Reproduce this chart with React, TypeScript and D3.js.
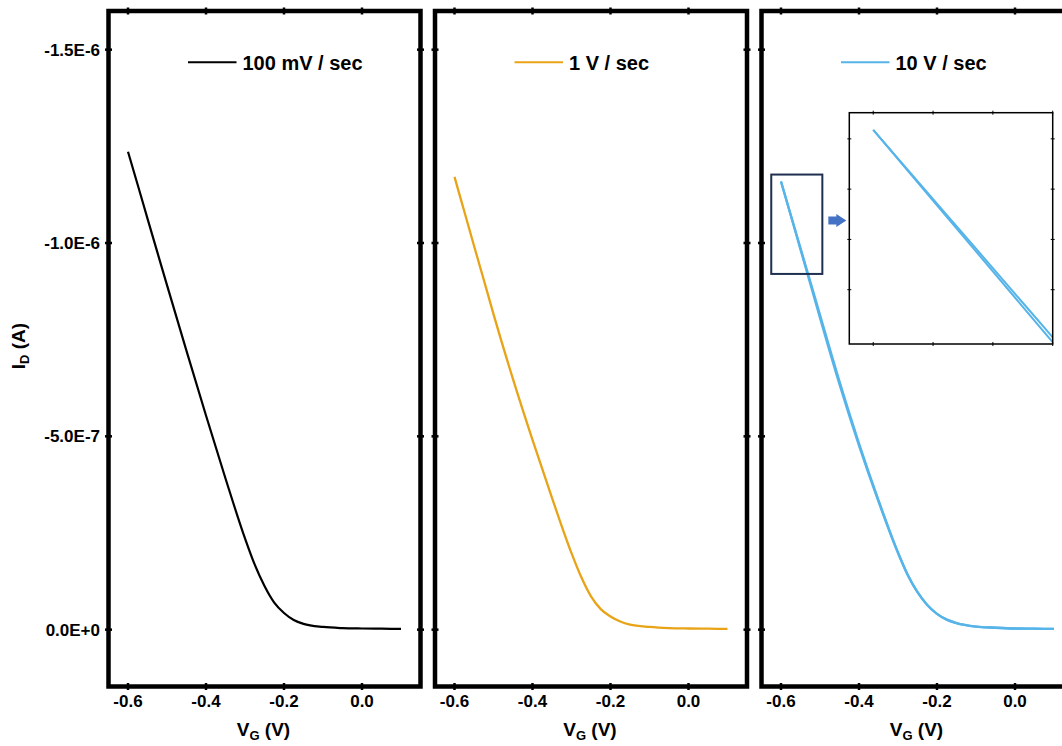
import * as d3 from "d3";

const W = 1062;
const H = 746;
const FONT = "'Liberation Sans', Arial, Helvetica, sans-serif";

// gate voltage (V)
const vg = [-0.6, -0.575, -0.55, -0.525, -0.5, -0.45, -0.4, -0.35, -0.3, -0.275, -0.25, -0.225, -0.2, -0.175, -0.15, -0.1, -0.05, 0, 0.05, 0.1];
// drain current (uA)
const id100mV = [-1.236, -1.150, -1.063, -0.977, -0.891, -0.721, -0.554, -0.391, -0.236, -0.168, -0.113, -0.07, -0.043, -0.025, -0.015, -0.007, -0.004, -0.003, -0.0025, -0.002];
const id1V = [-1.171, -1.082, -0.993, -0.905, -0.816, -0.648, -0.491, -0.341, -0.198, -0.136, -0.086, -0.053, -0.034, -0.021, -0.013, -0.007, -0.004, -0.003, -0.0025, -0.002];
const id10VFwd = [-1.159, -1.073, -0.987, -0.901, -0.814, -0.642, -0.482, -0.335, -0.2, -0.142, -0.097, -0.064, -0.041, -0.026, -0.017, -0.008, -0.005, -0.003, -0.0025, -0.002];
const id10VRev = [-1.159, -1.071, -0.983, -0.895, -0.806, -0.634, -0.476, -0.331, -0.198, -0.141, -0.097, -0.064, -0.041, -0.026, -0.017, -0.008, -0.005, -0.003, -0.0025, -0.002];

const xTicks = [-0.6, -0.4, -0.2, 0];
const xTickLabels = ["-0.6", "-0.4", "-0.2", "0.0"];
const yTicks = [0, -0.5, -1.0, -1.5];
const yTickLabels = ["0.0E+0", "-5.0E-7", "-1.0E-6", "-1.5E-6"];
const legendLabels = ["100 mV / sec", "1 V / sec", "10 V / sec"];
const colors = ["#000000", "#E8A317", "#56B4E9"];

// inset (zoom on the 10 V/s sweep start)
const insetXTicks = [-0.6, -0.58, -0.56, -0.54];
const insetYTicks = [-1.15, -1.1, -1.05, -1.0];
const zoomBox = { x0: -0.625, x1: -0.494, y0: -1.177, y1: -0.92 };

const panelX0 = [108.5, 435, 761.5];
const panelW = 312;
const top = 11;
const bottom = 686.5;

export default function App() {
  const y = d3.scaleLinear().domain([0.147, -1.6]).range([bottom, top]);
  const series = [[id100mV], [id1V], [id10VFwd, id10VRev]];

  const ix = d3.scaleLinear().domain([-0.608, -0.54]).range([849.3, 1052.7]);
  const iy = d3.scaleLinear().domain([-0.946, -1.176]).range([344, 112.7]);
  const insetLine = d3.line<number>()
    .x((_, i) => ix(vg[i]))
    .y(d => iy(d))
    .curve(d3.curveMonotoneX);

  const ixL = ix.range()[0], ixR = ix.range()[1];
  const iyT = iy.range()[1], iyB = iy.range()[0];

  return (
    <svg width={W} height={H} style={{ position: "absolute", left: 0, top: 0, background: "#fff" }}
      fontFamily={FONT} fontWeight="bold">
      <defs>
        <clipPath id="insetClip">
          <rect x={ixL} y={iyT} width={ixR - ixL} height={iyB - iyT} />
        </clipPath>
      </defs>

      {panelX0.map((x0, p) => {
        const x = d3.scaleLinear().domain([-0.65, 0.15]).range([x0, x0 + panelW]);
        const line = d3.line<number>()
          .x((_, i) => x(vg[i]))
          .y(d => y(d))
          .curve(d3.curveMonotoneX);
        return (
          <g key={p}>
            {series[p].map((s, k) => (
              <path key={k} d={line(s) || ""} fill="none" stroke={colors[p]} strokeWidth={p == 0 ? 2.2 : 2.3} />
            ))}
            <rect x={x0} y={top} width={panelW} height={bottom - top} fill="none" stroke="#000" strokeWidth={4.5} />
            {xTicks.map((t, i) => (
              <g key={"xt" + i}>
                <line x1={x(t)} x2={x(t)} y1={top - 3.5} y2={top + 3.5} stroke="#000" strokeWidth={2.5} />
                <line x1={x(t)} x2={x(t)} y1={bottom - 3.5} y2={bottom + 3.5} stroke="#000" strokeWidth={2.5} />
                <text x={x(t)} y={706.5} textAnchor="middle" fontSize={17}>{xTickLabels[i]}</text>
              </g>
            ))}
            {yTicks.map((t, i) => (
              <g key={"yt" + i}>
                <line x1={x0 - 3.5} x2={x0 + 3.5} y1={y(t)} y2={y(t)} stroke="#000" strokeWidth={2.5} />
                <line x1={x0 + panelW - 3.5} x2={x0 + panelW + 3.5} y1={y(t)} y2={y(t)} stroke="#000" strokeWidth={2.5} />
                {p == 0 && (
                  <text x={100} y={y(t)} dy="0.36em" textAnchor="end" fontSize={17}>{yTickLabels[i]}</text>
                )}
              </g>
            ))}
            <text x={x0 + panelW / 2 - 1} y={736} textAnchor="middle" fontSize={19}>
              V<tspan fontSize={13} dy={4}>G</tspan><tspan dy={-4}> (V)</tspan>
            </text>
            <line x1={x0 + 79.5} x2={x0 + 128} y1={62.3} y2={62.3} stroke={colors[p]} strokeWidth={2} />
            <text x={x0 + 134} y={69.5} fontSize={20}>{legendLabels[p]}</text>
          </g>
        );
      })}

      <text transform="translate(25,346) rotate(-90)" textAnchor="middle" fontSize={19}>
        I<tspan fontSize={13} dy={4}>D</tspan><tspan dy={-4}> (A)</tspan>
      </text>

      {/* zoom box on panel 3 */}
      {(() => {
        const x3 = d3.scaleLinear().domain([-0.65, 0.15]).range([panelX0[2], panelX0[2] + panelW]);
        const bx0 = x3(zoomBox.x0), bx1 = x3(zoomBox.x1);
        const by0 = y(zoomBox.y0), by1 = y(zoomBox.y1);
        const ay = 220.5;
        return (
          <g>
            <rect x={bx0} y={by0} width={bx1 - bx0} height={by1 - by0} fill="none" stroke="#1F2F4F" strokeWidth={2} />
            <path d={`M${bx1 + 6},${ay - 4} L${bx1 + 14},${ay - 4} L${bx1 + 14},${ay - 6.5} L${bx1 + 24},${ay} L${bx1 + 14},${ay + 6.5} L${bx1 + 14},${ay + 4} L${bx1 + 6},${ay + 4} Z`} fill="#4472C4" />
          </g>
        );
      })()}

      {/* inset */}
      <rect x={ixL} y={iyT} width={ixR - ixL} height={iyB - iyT} fill="#fff" />
      <g clipPath="url(#insetClip)">
        <path d={insetLine(id10VFwd) || ""} fill="none" stroke="#56B4E9" strokeWidth={2} />
        <path d={insetLine(id10VRev) || ""} fill="none" stroke="#56B4E9" strokeWidth={2} />
      </g>
      <rect x={ixL} y={iyT} width={ixR - ixL} height={iyB - iyT} fill="none" stroke="#000" strokeWidth={1.5} />
      {insetXTicks.map((t, i) => (
        <g key={"ixt" + i}>
          <line x1={ix(t)} x2={ix(t)} y1={iyT - 2} y2={iyT + 2} stroke="#000" strokeWidth={1} />
          <line x1={ix(t)} x2={ix(t)} y1={iyB - 2} y2={iyB + 2} stroke="#000" strokeWidth={1} />
        </g>
      ))}
      {insetYTicks.map((t, i) => (
        <g key={"iyt" + i}>
          <line x1={ixL - 2} x2={ixL + 2} y1={iy(t)} y2={iy(t)} stroke="#000" strokeWidth={1} />
          <line x1={ixR - 2} x2={ixR + 2} y1={iy(t)} y2={iy(t)} stroke="#000" strokeWidth={1} />
        </g>
      ))}
    </svg>
  );
}
